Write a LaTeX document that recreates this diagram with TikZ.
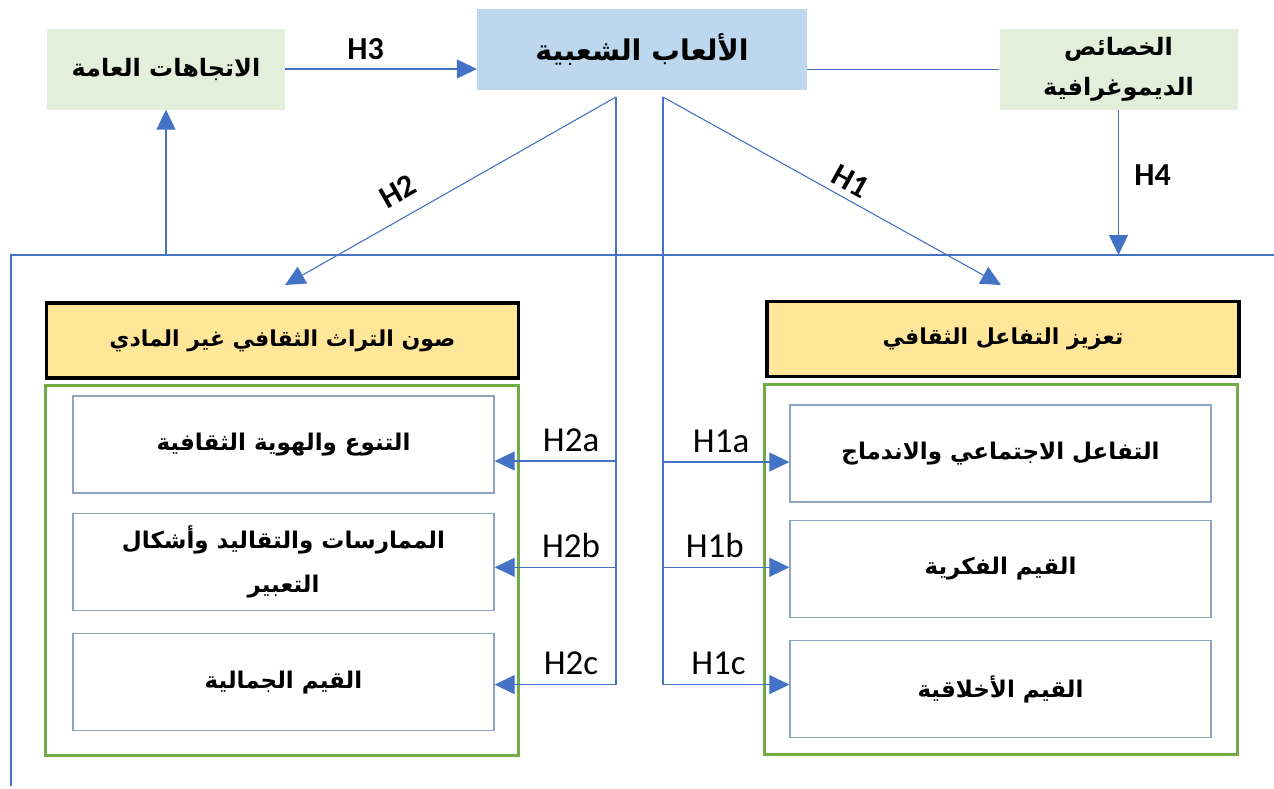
\documentclass[tikz,border=0pt]{standalone}
\usepackage{fontspec}
\usepackage{tikz}
\usetikzlibrary{arrows.meta,positioning}
\TeXXeTstate=1
\newfontfamily\arabicfont[Script=Arabic]{DejaVu Sans}
\newfontfamily\latinfont{Carlito}
\definecolor{gamesblue}{HTML}{BDD7EE}
\definecolor{factgreen}{HTML}{E2EFDA}
\definecolor{headyellow}{HTML}{FFE699}
\definecolor{framegreen}{HTML}{70AD47}
\definecolor{linkblue}{HTML}{4472C4}
\definecolor{itemgray}{HTML}{8EA4C0}
\newcommand{\concept}[1]{{\arabicfont\bfseries\beginR #1\endR}}
\newcommand{\hypo}[1]{{\latinfont #1}}

\begin{document}
\begin{tikzpicture}[
    x=1pt, y=-1pt,
    link/.style={draw=linkblue, line width=1.1pt},
    arrow link/.style={link, -{Triangle[width=19pt,length=20pt]}},
    main node/.style={draw=none, fill=gamesblue, minimum width=330pt, minimum height=81pt, font=\fontsize{28.5}{34}\selectfont},
    factor node/.style={draw=none, fill=factgreen, minimum width=238pt, minimum height=81pt, align=center, font=\fontsize{24}{40}\selectfont},
    head node/.style={draw=black, line width=3.5pt, fill=headyellow, minimum width=472pt, minimum height=75pt, font=\fontsize{22}{30}\selectfont},
    frame node/.style={draw=framegreen, line width=3pt, minimum width=473pt, minimum height=370pt},
    item node/.style={draw=itemgray, line width=1.3pt, fill=white, minimum width=421pt, minimum height=97pt, align=center, font=\fontsize{23}{44}\selectfont},
    bold hyp/.style={font=\latinfont\bfseries\fontsize{32}{36}\selectfont},
    sub hyp/.style={font=\latinfont\fontsize{35}{38}\selectfont, inner sep=0pt, above=9pt}
    ]
    \useasboundingbox (0,0) rectangle (1274,788);

    % top row
    \node[main node] (1) at (642,49.5) {\concept{الألعاب الشعبية}};
    \node[factor node] (2) at (166,69) {\concept{الاتجاهات العامة}};
    \node[factor node] (3) at (1118.5,69.5) {\concept{الخصائص}\\\concept{الديموغرافية}};

    % the two groups
    \node[head node] (4) at (282.5,340.5) {\concept{صون التراث الثقافي غير المادي}};
    \node[head node] (5) at (1003,339) {\concept{تعزيز التفاعل الثقافي}};
    \node[frame node] (6) at (281.5,570.5) {};
    \node[frame node] (7) at (1000.5,569.5) {};

    \node[item node] (8) at (283.5,444.5) {\concept{التنوع والهوية الثقافية}};
    \node[item node] (9) [below=19pt of 8] {\concept{الممارسات والتقاليد وأشكال}\\\concept{التعبير}};
    \node[item node] (10) [below=22pt of 9] {\concept{القيم الجمالية}};
    \node[item node] (11) at (1000.5,453.5) {\concept{التفاعل الاجتماعي والاندماج}};
    \node[item node] (12) [below=17pt of 11] {\concept{القيم الفكرية}};
    \node[item node] (13) [below=22pt of 12] {\concept{القيم الأخلاقية}};

    \coordinate (c1) at (616,97);
    \coordinate (c2) at (663,97);
    \coordinate (b1) at (11,255);
    \coordinate (b2) at (1274,255);
    \coordinate (b3) at (11,786);
    \coordinate (e1) at (1001,285);
    \coordinate (e2) at (285,285);
    \coordinate (t8) at ([yshift=-16.5pt]8.east);
    \coordinate (t9) at ([yshift=-5.5pt]9.east);
    \coordinate (t10) at ([yshift=-2.5pt]10.east);
    \coordinate (t11) at ([yshift=-8.5pt]11.west);
    \coordinate (t12) at ([yshift=1.5pt]12.west);
    \coordinate (t13) at ([yshift=4.5pt]13.west);

    \draw[link] (b2) -- (b1) -- (b3);
    \draw[arrow link] (2.south |- b1) -- (2.south);
    \draw[arrow link] (3.south) -- (3.south |- b1) node[pos=0.45, right=12pt, bold hyp] {H4};
    \draw[arrow link] (2.east) -- (2.east -| 1.west) node[pos=0.42, above=5pt, bold hyp] {H3};
    \draw[link] (1.east |- 3.west) -- (3.west);

    \draw[arrow link] (c1) -- (e2) node[pos=0.62, sloped, above=11.5pt, bold hyp] {H2};
    \draw[arrow link] (c2) -- (e1) node[pos=0.53, sloped, above=3.5pt, bold hyp] {H1};

    \draw[arrow link] (c1) -- (t10 -| c1) -- (t10) node[pos=0.37, sub hyp] {H2c};
    \draw[arrow link] (t8 -| c1) -- (t8) node[pos=0.37, sub hyp] {H2a};
    \draw[arrow link] (t9 -| c1) -- (t9) node[pos=0.37, sub hyp] {H2b};
    \draw[arrow link] (c2) -- (t13 -| c2) -- (t13) node[pos=0.44, sub hyp] {H1c};
    \draw[arrow link] (t11 -| c2) -- (t11) node[pos=0.46, sub hyp] {H1a};
    \draw[arrow link] (t12 -| c2) -- (t12) node[pos=0.41, sub hyp] {H1b};
\end{tikzpicture}
\end{document}
